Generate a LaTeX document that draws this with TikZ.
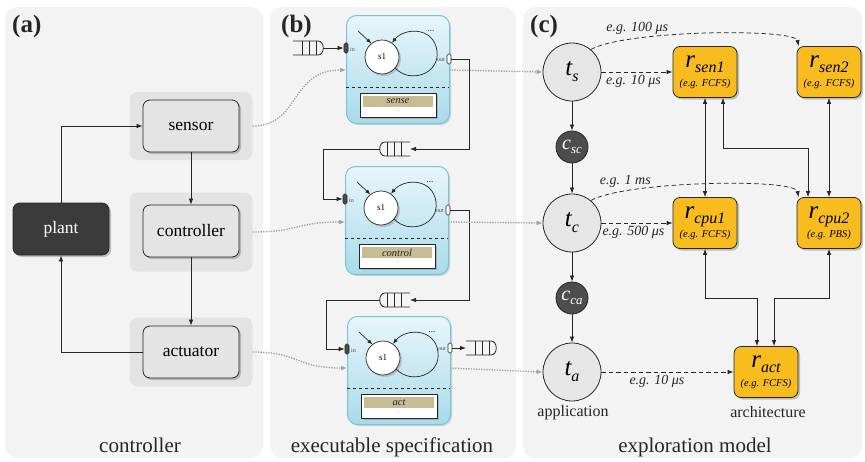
\documentclass[tikz,border=0pt]{standalone}
\usepackage{fontspec}
\setmainfont{LiberationSerif}[Extension=.ttf, UprightFont=*-Regular, BoldFont=*-Bold,
  ItalicFont=*-Italic, BoldItalicFont=*-BoldItalic]
\usetikzlibrary{arrows.meta,shadows,calc}

\definecolor{panelbg}{HTML}{F3F3F3}
\definecolor{halogray}{HTML}{E3E3E3}
\definecolor{blockgray}{HTML}{E4E4E4}
\definecolor{plantgray}{HTML}{3B3B3B}
\definecolor{taskgray}{HTML}{E6E6E6}
\definecolor{changray}{HTML}{4D4D4D}
\definecolor{resorange}{HTML}{F8BC1F}
\definecolor{specborder}{HTML}{78C3DC}
\definecolor{spectop}{HTML}{E8F6FB}
\definecolor{specbottom}{HTML}{A9DAEA}
\definecolor{bandkhaki}{HTML}{C7BD95}
\definecolor{tracegray}{HTML}{A0A0A0}
\definecolor{inkgray}{HTML}{262626}

\newcommand\setfs[1]{\fontsize{#1}{#1}\selectfont}

% FIFO buffer: open on the left, rounded end on the right
\newcommand\queuecapright[1]{%
  \draw[qline] (#1.north west) -- ([xshift=-5pt]#1.north east)
    .. controls ([xshift=2pt]#1.north east) and ([xshift=2pt]#1.south east) .. ([xshift=-5pt]#1.south east)
    -- (#1.south west);
  \foreach \qx in {9,16,23} {\draw[qline] ([xshift=\qx pt]#1.north west) -- ([xshift=\qx pt]#1.south west);}
}
% FIFO buffer: rounded end on the left, open on the right
\newcommand\queuecapleft[1]{%
  \draw[qline] (#1.north east) -- ([xshift=5pt]#1.north west)
    .. controls ([xshift=-2pt]#1.north west) and ([xshift=-2pt]#1.south west) .. ([xshift=5pt]#1.south west)
    -- (#1.south east);
  \foreach \qx in {9,16,23} {\draw[qline] ([xshift=-\qx pt]#1.north east) -- ([xshift=-\qx pt]#1.south east);}
}

% Executable module: #1 name, #2/#3 top-left corner, #4 data label,
% #5 depth of the output port, #6 depth of the trace link
\newcommand\specmodule[6]{%
  \node[specbox, anchor=north west] (#1) at (#2,#3) {};
  \node[inport] (#1-in) at (#2,#3+33) {};
  \node[portlabel, anchor=west] at (#2+3,#3+35) {in};
  \node[outport] (#1-out) at (#2+103,#3+#5) {};
  \node[portlabel, anchor=east] at (#2+100,#3+#5+1) {out};
  \node[state] (#1-s1) at (#2+36,#3+42) {s1};
  \draw[smallflow] (#2+12,#3+16) -- (#1-s1.128);
  \draw[smallflow] (#1-s1.-40) .. controls (#2+64,#3+69) and (#2+94,#3+59) .. (#2+91,#3+36)
    .. controls (#2+88,#3+12) and (#2+59,#3+12) .. (#1-s1.55);
  \node[font=\setfs{9}, inner sep=0pt] at (#2+85,#3+16) {...};
  \draw[dashed, line width=0.8pt, inkgray] (#2,#3+72) -- (#2+103,#3+72);
  \node[datbox] (#1-data) at (#2+52,#3+90) {};
  \fill[bandkhaki] (#2+17,#3+81) rectangle (#2+87,#3+92);
  \node[font=\setfs{10.5}\itshape, inner sep=0pt, text=inkgray] at (#2+52,#3+86.5) {#4};
  \node[font=\setfs{5}, text=black!45, inner sep=0pt] at (#2+52,#3+97) {--};
  \coordinate (#1-tin) at (#2,#3+#6);
  \coordinate (#1-tout) at (#2+103,#3+#6);
}

% italic symbol with a lowered italic index
\newcommand\idx[3]{\textit{#1}\raisebox{-#3pt}{\setfs{#2}\itshape #2}}
\newcommand\sym[4]{{\setfs{#1}\itshape #2}\raisebox{-#4pt}{\setfs{#3}\itshape #2}}
\newcommand\symsub[5]{{\setfs{#1}\itshape #2}\raisebox{-#5pt}{\setfs{#3}\itshape #4}}
% resource label: name with index, then scheduling policy
\newcommand\reslabel[2]{\symsub{25}{r}{16}{#1}{5}\\{\setfs{10.5}\itshape(e.g. #2)}}

\begin{document}
\begin{tikzpicture}[x=1pt, y=-1pt,
  panel/.style={fill=panelbg, rounded corners=12pt},
  halo/.style={fill=halogray, rounded corners=8pt, minimum width=123pt, inner sep=0pt},
  block/.style={draw=inkgray, line width=0.8pt, fill=blockgray, rounded corners=7pt,
    minimum width=96pt, minimum height=52pt, font=\setfs{17.5},
    drop shadow={shadow xshift=2pt, shadow yshift=-2pt, opacity=0.45}},
  plantblock/.style={block, fill=plantgray, text=white},
  flow/.style={draw=inkgray, line width=0.75pt, -{Latex[length=6pt,width=4.5pt]}},
  duplex/.style={draw=inkgray, line width=0.75pt, {Latex[length=6pt,width=4.5pt]}-{Latex[length=6pt,width=4.5pt]}},
  trace/.style={draw=tracegray, line width=1.3pt, dash pattern=on 1.3pt off 1.3pt,
    -{Latex[length=6pt,width=5pt]}},
  latency/.style={flow, dash pattern=on 4.5pt off 3pt},
  delay/.style={font=\setfs{14}\itshape, inner sep=1pt, text=inkgray},
  task/.style={circle, draw=inkgray, line width=0.8pt, fill=taskgray, minimum size=58pt,
    inner sep=0pt},
  chan/.style={circle, fill=changray, draw=inkgray, line width=0.8pt, minimum size=32pt,
    inner sep=0pt, text=white},
  res/.style={draw=inkgray, line width=0.8pt, fill=resorange, rounded corners=7pt,
    minimum width=64pt, minimum height=51pt, inner sep=1pt, align=center,
    font=\fontsize{10.5}{19}\selectfont,
    drop shadow={shadow xshift=2pt, shadow yshift=-2pt, opacity=0.45}},
  specbox/.style={draw=specborder, line width=1pt, top color=spectop, bottom color=specbottom,
    rounded corners=10pt, minimum width=103pt, minimum height=108pt, inner sep=0pt,
    drop shadow={shadow xshift=1.5pt, shadow yshift=-1.5pt, opacity=0.3}},
  inport/.style={draw=inkgray, fill=black!70, rounded corners=1.5pt, minimum width=4pt,
    minimum height=10pt, inner sep=0pt, line width=0.6pt},
  outport/.style={inport, fill=white},
  portlabel/.style={font=\setfs{6}, inner sep=1pt, text=black!70},
  state/.style={circle, draw=inkgray, fill=white, line width=0.7pt, minimum size=34pt,
    inner sep=0pt, font=\setfs{9},
    drop shadow={shadow xshift=2pt, shadow yshift=-2pt, opacity=0.35}},
  smallflow/.style={draw=inkgray, line width=0.7pt, -{Latex[length=5pt,width=4pt]}},
  datbox/.style={draw=inkgray, fill=white, line width=0.7pt, minimum width=76pt,
    minimum height=24pt, inner sep=0pt,
    drop shadow={shadow xshift=1.5pt, shadow yshift=-1.5pt, opacity=0.4}},
  queue/.style={minimum width=30pt, minimum height=14pt, inner sep=0pt, outer sep=0pt},
  qline/.style={draw=inkgray, line width=0.8pt},
  caption/.style={font=\setfs{21}, anchor=base, text=inkgray},
  tag/.style={font=\setfs{25}\bfseries, anchor=base west, inner sep=0pt, text=inkgray},
  layer/.style={font=\setfs{16}, anchor=base, text=inkgray},
]
\useasboundingbox (0,0) rectangle (865,461);
\fill[white] (0,0) rectangle (865,461);

% three panels
\path[panel] (5,7) rectangle (263,458);
\path[panel] (270,7) rectangle (516,458);
\path[panel] (523,7) rectangle (862,458);

\node[tag] at (12,32) {(a)};
\node[tag] at (281,32) {(b)};
\node[tag] at (530,32) {(c)};

% ---------------- (a) control loop ----------------
\node[halo, minimum height=68pt] (hs) at (191,126) {};
\node[halo, minimum height=79pt] (hc) at (191,232) {};
\node[halo, minimum height=69pt] (ha) at (191,352) {};

\node[block] (sensor) at (191,126) {sensor};
\node[block] (controller) at (191,231) {controller};
\node[block] (actuator) at (191,352) {actuator};
\node[plantblock] (plant) at (61,229) {plant};

\draw[flow] (plant.north) |- (sensor.west);
\draw[flow] (sensor) -- (controller);
\draw[flow] (controller) -- (actuator);
\draw[flow] (actuator.west) -| (plant.south);

\node[caption] at (140,452) {controller};

% ---------------- (b) executable specification ----------------
\specmodule{m1}{346}{15}{sense}{44}{55}
\specmodule{m2}{345}{166}{control}{44}{56}
\specmodule{m3}{347}{316}{act}{32}{52}

\node[queue] (q1) at (308,48) {};
\node[queue] (q2) at (395,149) {};
\node[queue] (q3) at (395,300) {};
\node[queue] (q4) at (481,348) {};
\queuecapright{q1}
\queuecapleft{q2}
\queuecapleft{q3}
\queuecapright{q4}

\draw[flow] (q1.east) -- (m1-in.west);
\draw[flow] (m1-out.east) -- ++(18,0) |- (q2.east);
\draw[flow] (q2.west) -- ++(-57,0) |- (m2-in.west);
\draw[flow] (m2-out.east) -- ++(19,0) |- (q3.east);
\draw[flow] (q3.west) -- ++(-54,0) |- (m3-in.west);
\draw[flow] (m3-out.east) -- (q4.west);

\draw[trace] (hs.east) .. controls (300,126) and (290,70) .. (m1-tin);
\draw[trace] (hc.east) .. controls (300,232) and (295,222) .. (m2-tin);
\draw[trace] (ha.east) .. controls (300,352) and (295,368) .. (m3-tin);

\node[caption] at (392,452) {executable specification};

% ---------------- (c) exploration model ----------------
\node[task] (ts) at (572,72) {\symsub{25}{t}{16}{s}{6}};
\node[chan] (csc) at (572,147) {\symsub{20}{c}{13}{sc}{4}};
\node[task] (tc) at (572,223) {\symsub{25}{t}{16}{c}{6}};
\node[chan] (cca) at (572,298) {\symsub{20}{c}{13}{ca}{4}};
\node[task] (ta) at (572,372) {\symsub{25}{t}{16}{a}{6}};

\draw[flow] (ts) -- (csc);
\draw[flow] (csc) -- (tc);
\draw[flow] (tc) -- (cca);
\draw[flow] (cca) -- (ta);

\node[res] (rsen1) at (705,72) {\reslabel{sen1}{FCFS}};
\node[res] (rsen2) at (829,72) {\reslabel{sen2}{FCFS}};
\node[res] (rcpu1) at (705,223) {\reslabel{cpu1}{FCFS}};
\node[res] (rcpu2) at (829,223) {\reslabel{cpu2}{PBS}};
\node[res] (ract) at (766,372) {\reslabel{act}{FCFS}};

\draw[trace] (m1-tout) -- (ts.west);
\draw[trace] (m2-tout) -- (tc.west);
\draw[trace] (m3-tout) -- (ta.west);

\draw[latency] (ts.east) -- (rsen1.west) node[delay, below=2pt, pos=0.45] {e.g. 10 μs};
\draw[latency] (ts.50) .. controls (625,30) and (795,28) .. ([xshift=2pt]rsen2.north west)
  node[delay, above=2pt, pos=0.25] {e.g. 100 μs};
\draw[latency] (tc.east) -- (rcpu1.west) node[delay, below=2pt, pos=0.45] {e.g. 500 μs};
\draw[latency] (tc.50) .. controls (625,181) and (795,178) .. ([xshift=2pt]rcpu2.north west)
  node[delay, above=2pt, pos=0.2] {e.g. 1 ms};
\draw[latency] (ta.east) -- (ract.west) node[delay, below=2pt, pos=0.42] {e.g. 10 μs};

\draw[duplex] (rsen1.south) -- (rcpu1.north);
\draw[duplex] ([xshift=18pt]rsen1.south) -- ++(0,50) -| ([xshift=-21pt]rcpu2.north);
\draw[duplex] (rsen2.south) -- (rcpu2.north);
\draw[duplex] (rcpu1.south) -- ++(0,49) -| ([xshift=-9pt]ract.north);
\draw[duplex] (rcpu2.south) -- ++(0,49) -| ([xshift=8pt]ract.north);

\node[layer] at (573,416) {application};
\node[layer] at (768,417) {architecture};
\node[caption] at (695,452) {exploration model};
\end{tikzpicture}
\end{document}
